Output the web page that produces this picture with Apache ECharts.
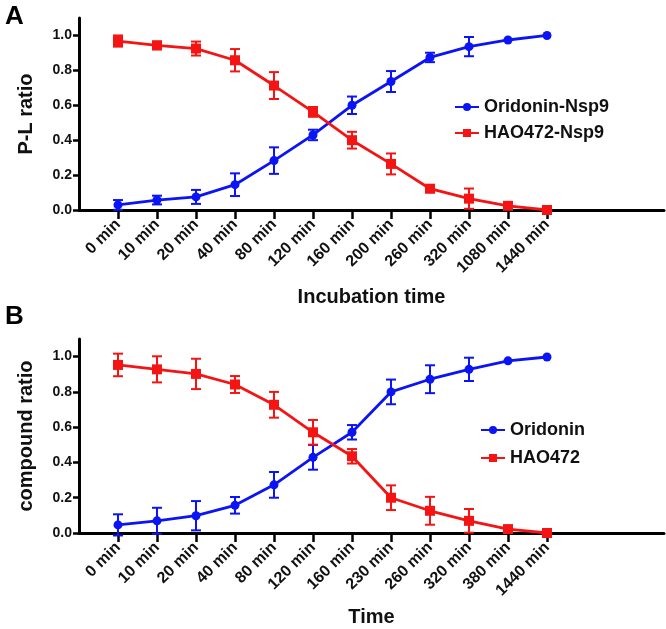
<!DOCTYPE html>
<html>
<head>
<meta charset="utf-8">
<script src="https://cdn.jsdelivr.net/npm/echarts@6/dist/echarts.min.js"></script>
<style>
html,body{margin:0;padding:0;background:#fff;}
#c{width:666px;height:629px;}
</style>
</head>
<body>
<div id="c"></div>
<script>
// Panel A
var categoriesA = ['0 min','10 min','20 min','40 min','80 min','120 min','160 min','200 min','260 min','320 min','1080 min','1440 min'];
var oridoninA    = [0.029, 0.057, 0.075, 0.145, 0.283, 0.43, 0.60, 0.736, 0.874, 0.936, 0.974, 1.0];
var oridoninAErr = [0.028, 0.025, 0.04, 0.065, 0.076, 0.03, 0.05, 0.06, 0.027, 0.055, 0.005, 0.0];
var hao472A      = [0.968, 0.943, 0.925, 0.858, 0.713, 0.562, 0.40, 0.264, 0.122, 0.065, 0.024, 0.0];
var hao472AErr   = [0.032, 0.022, 0.04, 0.064, 0.077, 0.028, 0.048, 0.06, 0.02, 0.058, 0.01, 0.0];
// Panel B
var categoriesB = ['0 min','10 min','20 min','40 min','80 min','120 min','160 min','230 min','260 min','320 min','380 min','1440 min'];
var oridoninB    = [0.046, 0.069, 0.098, 0.157, 0.273, 0.429, 0.571, 0.80, 0.872, 0.928, 0.976, 0.998];
var oridoninBErr = [0.06, 0.074, 0.083, 0.047, 0.073, 0.07, 0.041, 0.07, 0.079, 0.066, 0.005, 0.0];
var hao472B      = [0.953, 0.928, 0.902, 0.842, 0.727, 0.571, 0.435, 0.20, 0.126, 0.069, 0.022, 0.0];
var hao472BErr   = [0.064, 0.074, 0.086, 0.048, 0.073, 0.07, 0.041, 0.07, 0.079, 0.067, 0.01, 0.0];
var yTicks = [0, 0.2, 0.4, 0.6, 0.8, 1.0];

var FONT = 'Liberation Sans';
var BLUE = '#0a14f5';
var RED = '#f51414';

function padCats(c){ return [''].concat(c, ['', '', '']); }
function pts(vals){ return vals.map(function(v,i){ return [i+1, v]; }); }
function errPts(vals, errs){ return vals.map(function(v,i){ return [i+1, v, errs[i]]; }); }

function errSeries(vals, errs, color, axisIdx){
  return {
    type: 'custom',
    xAxisIndex: axisIdx, yAxisIndex: axisIdx,
    data: errPts(vals, errs),
    z: 1,
    silent: true,
    renderItem: function(params, api){
      var x = api.value(0), v = api.value(1), e = api.value(2);
      if (!e || e < 0.012) return null;
      var t = api.coord([x, v + e]);
      var b = api.coord([x, v - e]);
      var w = 5;
      var st = {stroke: color, lineWidth: 2};
      return {type: 'group', children: [
        {type: 'line', shape: {x1: t[0], y1: t[1], x2: b[0], y2: b[1]}, style: st},
        {type: 'line', shape: {x1: t[0]-w, y1: t[1], x2: t[0]+w, y2: t[1]}, style: st},
        {type: 'line', shape: {x1: b[0]-w, y1: b[1], x2: b[0]+w, y2: b[1]}, style: st}
      ]};
    }
  };
}

function lineSeries(name, vals, color, symbol, size, axisIdx){
  return {
    name: name, type: 'line',
    xAxisIndex: axisIdx, yAxisIndex: axisIdx,
    data: pts(vals),
    symbol: symbol, symbolSize: size,
    showAllSymbol: true,
    lineStyle: {color: color, width: 2.8},
    itemStyle: {color: color},
    z: 3
  };
}

function xAxis(cats, name, gap, idx){
  return {
    type: 'category', gridIndex: idx,
    data: padCats(cats),
    boundaryGap: false,
    name: name, nameLocation: 'middle', nameGap: gap,
    nameTextStyle: {fontFamily: FONT, fontWeight: 'bold', fontSize: 20, color: '#111'},
    axisLine: {lineStyle: {color: '#000', width: 3}},
    axisTick: {length: 9, lineStyle: {color: '#000', width: 2.5},
      interval: function(i, v){ return v !== ''; }},
    axisLabel: {interval: function(i, v){ return v !== ''; }, rotate: 45, margin: 12,
      fontFamily: FONT, fontWeight: 'bold', fontSize: 16, color: '#111'},
    splitLine: {show: false}
  };
}

function yAxis(name, idx){
  return {
    type: 'value', gridIndex: idx,
    min: 0, max: 1.1, interval: 0.2,
    name: name, nameLocation: 'middle', nameGap: 43,
    nameTextStyle: {fontFamily: FONT, fontWeight: 'bold', fontSize: 20, color: '#111'},
    axisLine: {show: true, lineStyle: {color: '#000', width: 3}},
    axisTick: {show: true, length: 6, lineStyle: {color: '#000', width: 2.5}},
    axisLabel: {showMaxLabel: false, margin: 7, fontFamily: FONT, fontWeight: 'bold', fontSize: 14, color: '#111',
      formatter: function(v){ return yTicks.indexOf(Math.round(v*10)/10) >= 0 ? v.toFixed(1) : ''; }},
    splitLine: {show: false}
  };
}

var chart = echarts.init(document.getElementById('c'), null, {renderer: 'canvas'});
chart.setOption({
  backgroundColor: '#fff',
  animation: false,
  title: [
    {text: 'A', left: 0, top: -1, textStyle: {fontFamily: FONT, fontWeight: 'bold', fontSize: 26, color: '#000'}},
    {text: 'B', left: 0, top: 299, textStyle: {fontFamily: FONT, fontWeight: 'bold', fontSize: 26, color: '#000'}}
  ],
  grid: [
    {left: 79, top: 18, width: 585, height: 192},
    {left: 79, top: 339, width: 585, height: 194}
  ],
  xAxis: [xAxis(categoriesA, 'Incubation time', 77, 0), xAxis(categoriesB, 'Time', 74, 1)],
  yAxis: [yAxis('P-L ratio', 0), yAxis('compound ratio', 1)],
  legend: [
    {data: ['Oridonin-Nsp9', 'HAO472-Nsp9'], orient: 'vertical', left: 449, top: 93, itemWidth: 24, itemHeight: 10, itemGap: 8,
      textStyle: {fontFamily: FONT, fontWeight: 'bold', fontSize: 18, color: '#111'}},
    {data: ['Oridonin', 'HAO472'], orient: 'vertical', left: 475, top: 416, itemWidth: 24, itemHeight: 10, itemGap: 10,
      textStyle: {fontFamily: FONT, fontWeight: 'bold', fontSize: 18, color: '#111'}}
  ],
  series: [
    errSeries(oridoninA, oridoninAErr, BLUE, 0),
    errSeries(hao472A, hao472AErr, RED, 0),
    lineSeries('Oridonin-Nsp9', oridoninA, BLUE, 'circle', 9, 0),
    lineSeries('HAO472-Nsp9', hao472A, RED, 'rect', 10, 0),
    errSeries(oridoninB, oridoninBErr, BLUE, 1),
    errSeries(hao472B, hao472BErr, RED, 1),
    lineSeries('Oridonin', oridoninB, BLUE, 'circle', 9, 1),
    lineSeries('HAO472', hao472B, RED, 'rect', 10, 1)
  ]
});
</script>
</body>
</html>
